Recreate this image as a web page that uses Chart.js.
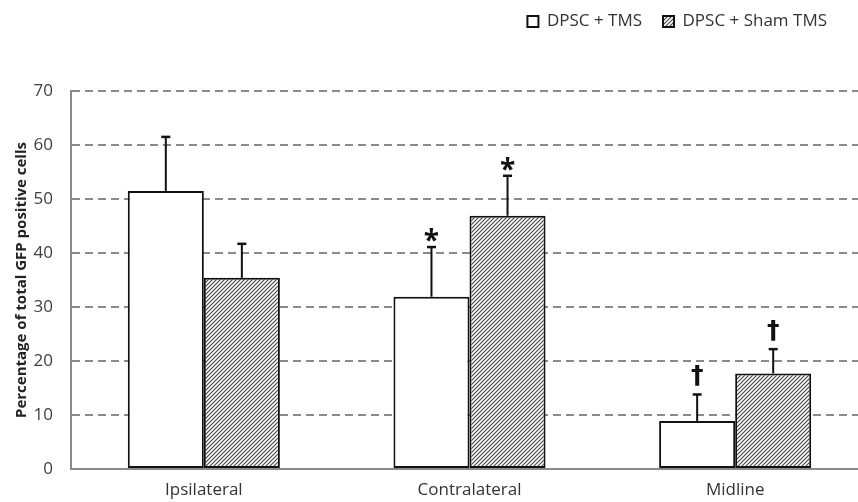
<!DOCTYPE html>
<html>
<head>
<meta charset="utf-8">
<script src="https://cdn.jsdelivr.net/npm/chart.js@4.4.1/dist/chart.umd.min.js"></script>
<style>
  html, body { margin: 0; padding: 0; background: #fff; overflow: hidden; }
  #wrap { width: 868px; height: 502px; position: relative; }
</style>
</head>
<body>
<div id="wrap"><canvas id="c"></canvas></div>
<script>
// ---- data ----
const categories = ['Ipsilateral', 'Contralateral', 'Midline'];
const seriesNames = ['DPSC + TMS', 'DPSC + Sham TMS'];
const tmsValues = [51.5, 31.9, 8.9];
const tmsErrors = [10.0, 9.2, 4.9];
const shamValues = [35.4, 46.9, 17.7];
const shamErrors = [6.3, 7.4, 4.5];
const tmsMarks = ['', '*', '\u2020'];
const shamMarks = ['', '*', '\u2020'];
const yTicks = [0, 10, 20, 30, 40, 50, 60, 70];

// hatch pattern
function makeHatch() {
  const s = 4;
  const pc = document.createElement('canvas');
  pc.width = s; pc.height = s;
  const g = pc.getContext('2d');
  g.fillStyle = '#ffffff';
  g.fillRect(0, 0, s, s);
  g.strokeStyle = '#444444';
  g.lineWidth = 1.1;
  g.beginPath();
  g.moveTo(-1, s + 1); g.lineTo(s + 1, -1);
  g.moveTo(-1, 1); g.lineTo(1, -1);
  g.moveTo(s - 1, s + 1); g.lineTo(s + 1, s - 1);
  g.stroke();
  return document.getElementById('c').getContext('2d').createPattern(pc, 'repeat');
}
const hatch = makeHatch();

const errorPlugin = {
  id: 'errorBars',
  afterDatasetsDraw(chart) {
    const ctx = chart.ctx;
    const yScale = chart.scales.y;
    const errs = [tmsErrors, shamErrors];
    const marks = [tmsMarks, shamMarks];
    chart.data.datasets.forEach((ds, di) => {
      const meta = chart.getDatasetMeta(di);
      meta.data.forEach((bar, i) => {
        const v = ds.data[i];
        const top = yScale.getPixelForValue(v + errs[di][i]);
        ctx.save();
        ctx.strokeStyle = '#111';
        ctx.lineWidth = 2;
        ctx.beginPath();
        ctx.moveTo(bar.x, bar.y);
        ctx.lineTo(bar.x, top);
        ctx.stroke();
        ctx.lineWidth = 2.5;
        ctx.beginPath();
        ctx.moveTo(bar.x - 4.5, top);
        ctx.lineTo(bar.x + 4.5, top);
        ctx.stroke();
        const m = marks[di][i];
        if (m) {
          ctx.fillStyle = '#111';
          ctx.textAlign = 'center';
          ctx.textBaseline = 'middle';
          if (m === '*') {
            ctx.font = 'bold 28px "Open Sans"';
            ctx.fillText(m, bar.x, top - 5);
          } else {
            ctx.font = 'bold 25px "DejaVu Sans"';
            ctx.fillText(m, bar.x, top - 18);
          }
        }
        ctx.restore();
      });
    });
  }
};

const legendMover = {
  id: 'legendMover',
  afterLayout(chart) {
    const lg = chart.legend;
    if (!lg) return;
    const w = lg.right - lg.left;
    lg.right = 848;
    lg.left = lg.right - w;
    const h = lg.bottom - lg.top;
    lg.top = -8;
    lg.bottom = lg.top + h;
  }
};

new Chart(document.getElementById('c'), {
  type: 'bar',
  data: {
    labels: categories,
    datasets: [
      {
        label: seriesNames[0],
        data: tmsValues,
        backgroundColor: '#ffffff',
        borderColor: '#111111',
        borderWidth: 2,
        borderSkipped: false
      },
      {
        label: seriesNames[1],
        data: shamValues,
        backgroundColor: hatch,
        borderColor: '#111111',
        borderWidth: 2,
        borderSkipped: false
      }
    ]
  },
  options: {
    responsive: true,
    maintainAspectRatio: false,
    animation: false,
    devicePixelRatio: 1,
    layout: { padding: { top: 43, left: 6, right: 0, bottom: 0 } },
    datasets: { bar: { categoryPercentage: 0.5725, barPercentage: 1.0 } },
    plugins: {
      legend: {
        position: 'top',
        align: 'end',
        labels: {
          boxWidth: 11,
          boxHeight: 11,
          padding: 21,
          color: '#333',
          font: { family: 'Open Sans', size: 17 }
        }
      },
      tooltip: { enabled: false }
    },
    scales: {
      x: {
        afterFit(scale) { scale.height = 33; },
        grid: { display: false, drawTicks: false },
        border: { display: true, color: '#8a8a8a', width: 2 },
        ticks: {
          padding: 11,
          color: '#333',
          font: { family: 'Open Sans', size: 17 }
        }
      },
      y: {
        min: 0,
        max: 70,
        afterBuildTicks(scale) { scale.ticks = yTicks.map(v => ({ value: v })); },
        afterFit(scale) { scale.width = 65; },
        grid: {
          color: (c) => c.tick && c.tick.value === 0 ? 'rgba(0,0,0,0)' : '#8a8a8a',
          lineWidth: 2,
          drawTicks: false
        },
        border: { display: true, color: '#8a8a8a', width: 2, dash: [8, 5] },
        ticks: {
          padding: 18,
          color: '#404040',
          font: { family: 'Open Sans', size: 17 }
        },
        title: {
          display: true,
          text: 'Percentage of total GFP positive cells',
          color: '#222',
          font: { family: 'Open Sans', size: 15, weight: 'bold' },
          padding: { top: 7, bottom: 4 }
        }
      }
    }
  },
  plugins: [errorPlugin, legendMover]
});
</script>
</body>
</html>
